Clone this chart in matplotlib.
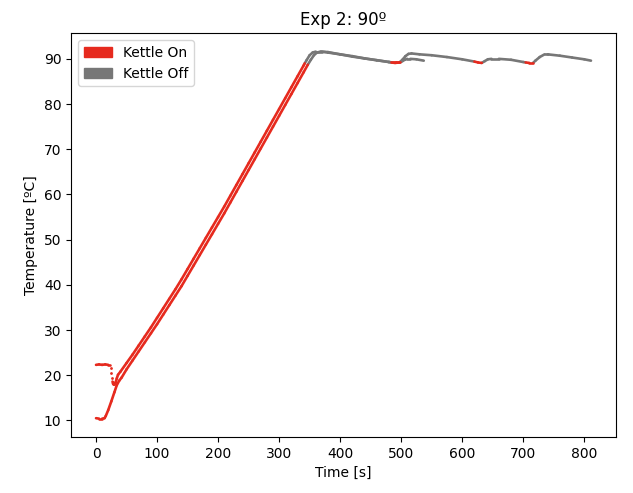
import matplotlib
matplotlib.use("Agg")
import matplotlib.pyplot as plt
from matplotlib.patches import Patch
import numpy as np

# ---- data ----
# Run A (starts warm at ~22 ºC, runs to the end)
time_a = [0, 5, 10, 15, 20, 23, 24, 25, 26, 27, 28, 29, 30, 32, 34, 36, 40, 50, 60, 70, 80,
          90, 100, 110, 120, 130, 140, 150, 160, 170, 180, 190, 200, 210, 220, 230, 240,
          250, 260, 270, 280, 290, 300, 310, 320, 330, 340, 342, 345, 350, 355, 360, 370,
          380, 400, 420, 440, 460, 480, 484, 490, 497, 502, 507, 512, 517, 530, 550, 575,
          600, 620, 626, 632, 637, 642, 648, 660, 680, 700, 704, 710, 716, 720, 727, 735,
          740, 760, 780, 800, 811]
temp_a = [22.3, 22.4, 22.3, 22.4, 22.3, 22.3, 21.5, 20.5, 19.5, 18.6, 18.1, 17.9, 17.9, 18.3,
          19.3, 20.1, 20.8, 22.7, 24.6, 26.6, 28.6, 30.6, 32.7, 34.8, 36.9, 39.0, 41.2,
          43.5, 45.8, 48.1, 50.4, 52.7, 55.0, 57.3, 59.7, 62.1, 64.5, 66.9, 69.3, 71.7,
          74.1, 76.5, 78.9, 81.3, 83.7, 86.1, 88.5, 89.0, 89.7, 90.8, 91.4, 91.6, 91.6,
          91.4, 91.0, 90.6, 90.1, 89.7, 89.3, 89.2, 89.1, 89.2, 89.8, 90.6, 91.1, 91.2,
          91.0, 90.8, 90.4, 89.9, 89.4, 89.2, 89.1, 89.5, 89.9, 90.0, 90.0, 89.8, 89.3,
          89.2, 89.1, 89.1, 89.6, 90.4, 91.0, 91.0, 90.7, 90.3, 89.9, 89.6]
on_a = [(0, 342), (484, 497), (620, 632), (704, 716)]

# Run B (starts cold at ~10 ºC, ends earlier)
time_b = [0, 5, 10, 14, 16, 20, 25, 30, 34, 38, 42, 50, 60, 70, 80, 90, 100, 110, 120, 130,
          140, 150, 160, 170, 180, 190, 200, 210, 220, 230, 240, 250, 260, 270, 280, 290,
          300, 310, 320, 330, 340, 347, 352, 357, 362, 368, 380, 400, 420, 440, 460, 480,
          486, 492, 498, 502, 506, 510, 515, 525, 537]
temp_b = [10.5, 10.4, 10.4, 10.5, 11.0, 12.3, 14.2, 16.2, 17.8, 18.8, 19.5, 21.3, 23.3,
          25.3, 27.3, 29.3, 31.3, 33.4, 35.5, 37.6, 39.7, 42.0, 44.3, 46.6, 48.9, 51.2,
          53.5, 55.8, 58.2, 60.6, 63.0, 65.4, 67.8, 70.2, 72.6, 75.0, 77.4, 79.8, 82.2,
          84.6, 87.0, 88.7, 89.8, 90.8, 91.4, 91.6, 91.5, 91.0, 90.5, 90.1, 89.7, 89.3,
          89.2, 89.2, 89.2, 89.5, 89.8, 90.0, 90.0, 89.9, 89.6]
on_b = [(0, 347), (486, 498)]

labels = ["Kettle On", "Kettle Off"]
colors = {"on": "#e62a1e", "off": "#777777"}

fig = plt.figure(figsize=(6.33, 4.93), dpi=100)
ax = fig.add_axes([0.1126, 0.1136, 0.9727 - 0.1126, 0.9325 - 0.1136])


def is_on(t, intervals):
    return any(a <= t <= b for a, b in intervals)


def draw_run(times, temps, intervals):
    times = np.asarray(times, float)
    temps = np.asarray(temps, float)
    n = len(times)
    for i in range(n - 1):
        t0, t1 = times[i], times[i + 1]
        state = is_on(0.5 * (t0 + t1), intervals)
        col = colors["on" if state else "off"]
        z = 3 if state else 2
        # consecutive samples 1 s apart with a big jump appear as separate dots
        if (t1 - t0 <= 1) and abs(temps[i + 1] - temps[i]) > 0.5:
            ax.plot([t1], [temps[i + 1]], "o", color=col, ms=2.0, mec="none", zorder=z)
        else:
            ax.plot(times[i:i + 2], temps[i:i + 2], color=col, lw=1.9,
                    solid_capstyle="round", solid_joinstyle="round", zorder=z)


draw_run(time_a, temp_a, on_a)
draw_run(time_b, temp_b, on_b)

ax.set_title("Exp 2: 90º", fontsize=12)
ax.set_xlabel("Time [s]", fontsize=10)
ax.set_ylabel("Temperature [ºC]", fontsize=10)
ax.set_xticks([0, 100, 200, 300, 400, 500, 600, 700, 800])
ax.set_yticks([10, 20, 30, 40, 50, 60, 70, 80, 90])

handles = [Patch(color=colors["on"], label=labels[0]),
           Patch(color=colors["off"], label=labels[1])]
ax.legend(handles=handles, loc="upper left")

fig.savefig("out.png", dpi=100)
